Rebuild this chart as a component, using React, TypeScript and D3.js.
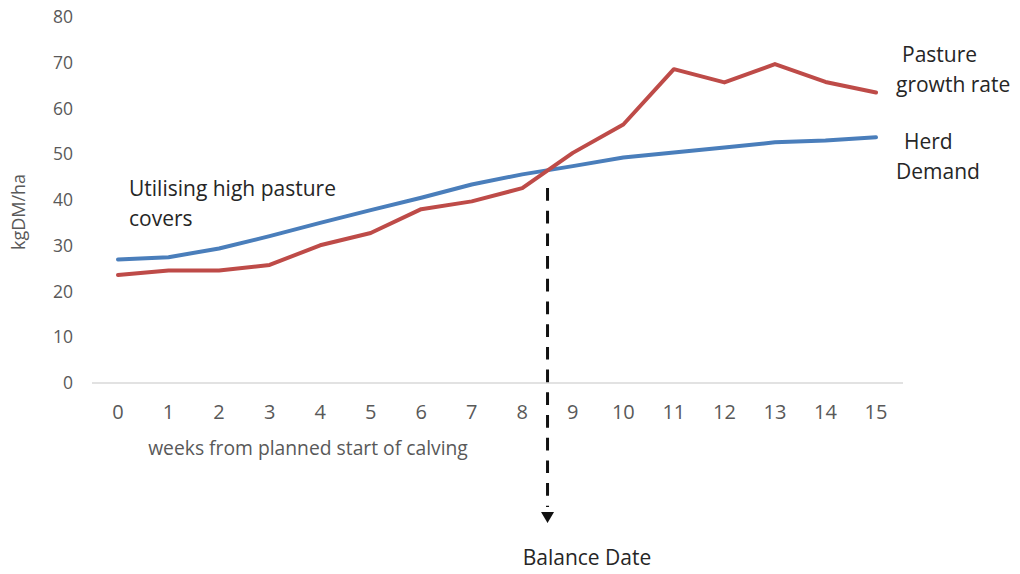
import React from "react";
import * as d3 from "d3";

const weeks = [0, 1, 2, 3, 4, 5, 6, 7, 8, 9, 10, 11, 12, 13, 14, 15];
const herdDemand = [27, 27.5, 29.4, 32.1, 35, 37.8, 40.5, 43.4, 45.6, 47.4, 49.3, 50.4, 51.5, 52.6, 53, 53.7];
const pastureGrowth = [23.6, 24.6, 24.6, 25.8, 30.1, 32.8, 38, 39.7, 42.6, 50.3, 56.5, 68.6, 65.7, 69.7, 65.8, 63.5];
const yTicks = [0, 10, 20, 30, 40, 50, 60, 70, 80];
const balanceWeek = 8.5;

const FONT = "'Open Sans', 'Noto Sans', sans-serif";

export default function App() {
  const W = 1020, H = 574;
  const x = d3.scaleLinear().domain([0, 15]).range([118, 876]);
  const y = d3.scaleLinear().domain([0, 80]).range([383, 17]);
  const line = d3.line<number>().x((_, i) => x(weeks[i])).y((d) => y(d));
  const bx = x(balanceWeek);
  const ann = 21;

  return (
    <div style={{ position: "absolute", left: 0, top: 0 }}>
      <svg width={W} height={H} style={{ display: "block", background: "#fff" }} fontFamily={FONT}>
        {/* x axis line */}
        <line x1={92} x2={903} y1={y(0)} y2={y(0)} stroke="#d9d9d9" strokeWidth={1.5} />
        {/* y tick labels */}
        {yTicks.map((t) => (
          <text key={t} x={73} y={y(t)} dy="0.35em" textAnchor="end" fontSize={17.5} fill="#595959">
            {t}
          </text>
        ))}
        {/* x tick labels */}
        {weeks.map((w) => (
          <text key={w} x={x(w)} y={412} dy="0.35em" textAnchor="middle" fontSize={20} fill="#595959">
            {w}
          </text>
        ))}
        <text x={308} y={448} dy="0.35em" textAnchor="middle" fontSize={19.3} fill="#595959">
          weeks from planned start of calving
        </text>
        <text transform={`translate(19,212) rotate(-90)`} dy="0.35em" textAnchor="middle" fontSize={18} fill="#595959">
          kgDM/ha
        </text>
        {/* series */}
        <path d={line(herdDemand) || ""} fill="none" stroke="#4a7ebb" strokeWidth={4} strokeLinejoin="round" strokeLinecap="round" />
        <path d={line(pastureGrowth) || ""} fill="none" stroke="#be4b48" strokeWidth={4} strokeLinejoin="round" strokeLinecap="round" />
        {/* balance date dashed arrow */}
        <line x1={bx} x2={bx} y1={188} y2={507} stroke="#111" strokeWidth={3} strokeDasharray="12.7 10" />
        <path d={`M${bx - 6.5},512 L${bx + 6.5},512 L${bx},523 Z`} fill="#111" />
        <text x={587} y={558} dy="0.35em" textAnchor="middle" fontSize={ann} fill="#262626">
          Balance Date
        </text>
        {/* annotations */}
        <text x={129} y={189} dy="0.35em" fontSize={ann} fill="#262626">Utilising high pasture</text>
        <text x={129} y={219} dy="0.35em" fontSize={ann} fill="#262626">covers</text>
        <text x={902} y={55} dy="0.35em" fontSize={ann} fill="#262626">Pasture</text>
        <text x={896} y={85} dy="0.35em" fontSize={ann} fill="#262626">growth rate</text>
        <text x={904} y={142} dy="0.35em" fontSize={ann} fill="#262626">Herd</text>
        <text x={896} y={172} dy="0.35em" fontSize={ann} fill="#262626">Demand</text>
      </svg>
    </div>
  );
}
